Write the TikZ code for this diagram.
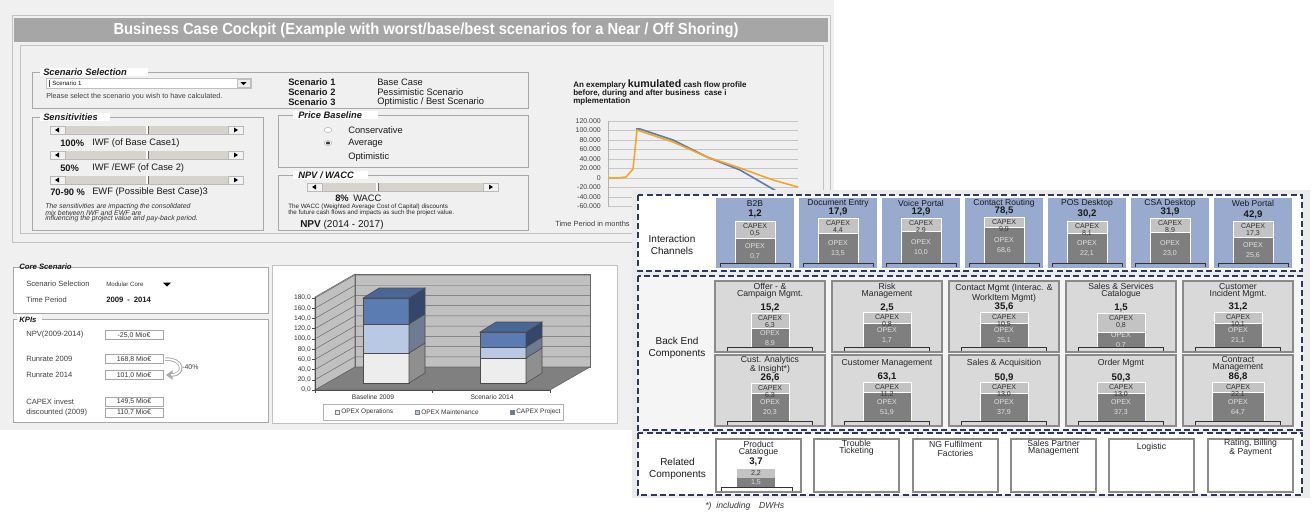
\documentclass[tikz,border=0pt]{standalone}
\usepackage{fontspec}
\setmainfont{Liberation Sans}
\newfontfamily\titlefont[FakeStretch=0.92]{Liberation Sans}
\usetikzlibrary{arrows.meta}
\newcommand\fsz[1]{\fontsize{#1}{#1}\selectfont}
\definecolor{panelbg}{HTML}{F0F0F0}
\definecolor{rightbg}{HTML}{EBEBEB}
\definecolor{framecol}{HTML}{A8A8A8}
\definecolor{titlebar}{HTML}{A6A6A6}
\definecolor{navy}{HTML}{2B3A5C}
\definecolor{icblue}{HTML}{98ABCF}
\definecolor{becardcol}{HTML}{D9D9D9}
\definecolor{cardedge}{HTML}{8A8A8A}
\definecolor{capfill}{HTML}{C3C3C3}
\definecolor{opfill}{HTML}{7F7F7F}
\definecolor{orangeline}{HTML}{F4A52A}
\definecolor{blueline}{HTML}{5A7DB3}
\definecolor{wallcol}{HTML}{C0C0C0}
\definecolor{floorcol}{HTML}{808080}
\definecolor{opsfront}{HTML}{EDEDED}
\definecolor{maintfront}{HTML}{B9C8E3}
\definecolor{capfront}{HTML}{5B7CB3}
\definecolor{opsside}{HTML}{8F8F8F}
\definecolor{maintside}{HTML}{6F7B90}
\definecolor{capside}{HTML}{34476B}
\definecolor{captop}{HTML}{4A6697}
\definecolor{sliderbg}{HTML}{D6D3CC}
\tikzset{
  lt/.style={inner sep=0pt, anchor=west, text=black!90},
  ct/.style={inner sep=0pt, text=black!90},
  boxframe/.style={draw=framecol, line width=0.6pt},
  grptitle/.style={lt, font=\bfseries\itshape\fsz{7}},
  dashbox/.style={draw=navy, line width=1.4pt, dash pattern=on 4.5pt off 2.5pt},
  captxt/.style={ct, font=\fsz{5.3}, text=black!80},
  optxt/.style={ct, font=\fsz{5.3}, text=white!88!black},
  brk/.style={draw=black!80, line width=0.7pt},
  ctitle/.style={ct, font=\fontsize{6.5}{5.3}\selectfont, align=center, text=black!85},
  ctitlewide/.style={ct, font=\fontsize{6.5}{7.5}\selectfont, align=center, text=black!85},
  cval/.style={ct, font=\bfseries\fsz{7.2}},
  seclabel/.style={ct, font=\fontsize{7.5}{9}\selectfont, align=center},
  kpibox/.style={draw=gray!70, fill=white, inner sep=0pt, minimum width=43.5pt, minimum height=6.75pt, font=\fsz{5.2}, text=black!80},
  relcard/.style={fill=white, draw=cardedge, line width=1pt},
  barline/.style={draw=black!70, line width=0.4pt}
}
% #1 name #2 cx #3 bottom #4 capTop #5 opTop #6 capex #7 opex #8 half width #9 bracket half width
\newcommand\drawstack[9]{%
  \fill[capfill] (#2-#8,#4) rectangle (#2+#8,#5);
  \fill[opfill] (#2-#8,#5) rectangle (#2+#8,#3);
  \draw[white, line width=0.6pt] (#2-#8,#3) -- (#2-#8,#4) -- (#2+#8,#4) -- (#2+#8,#3);
  \draw[white, line width=0.4pt] (#2-#8,#5) -- (#2+#8,#5);
  \node[captxt] (#1c) at (#2,#4+5) {CAPEX};
  \node[captxt] (#1cv) at (#2,#4+12.5) {#6};
  \node[optxt] (#1o) at (#2,{(#5+#3)/2-4.5}) {OPEX};
  \node[optxt] (#1ov) at (#2,{(#5+#3)/2+5.5}) {#7};
  \draw[brk] (#2-#9,#3+4) -- (#2-#9,#3) -- (#2+#9,#3) -- (#2+#9,#3+4);
}
% #1 name #2 x #3 title #4 total #5 totalY #6 capex #7 opex #8 capTop #9 opTop
\newcommand\icard[9]{%
  \fill[icblue] (#2,198) rectangle (#2+78,268);
  \node[ct, font=\fsz{6.4}] (#1t) at (#2+39,203.5) {#3};
  \node[cval] (#1v) at (#2+39,#5) {#4};
  \drawstack{#1}{#2+39}{263}{#8}{#9}{#6}{#7}{20}{35}
}
% #1 name #2 x #3 top #4 style #5 title #6 titleY #7 total #8 totalY
\newcommand\becard[8]{%
  \filldraw[fill=becardcol, draw=cardedge, line width=1pt] (#2,#3) rectangle (#2+110,#3+71);
  \node[#4] (#1t) at (#2+55,#6) {#5};
  \node[cval] (#1v) at (#2+55,#8) {#7};
}
% #1 x1 #2 x2 #3 y #4 thumb
\newcommand\slidebar[4]{%
  \fill[sliderbg] (#1,#3-4) rectangle (#2,#3+4);
  \draw[gray!55, line width=0.5pt] (#1,#3+4) -- (#2,#3+4);
  \filldraw[fill=gray!10, draw=gray!55, line width=0.4pt] (#1,#3-4) rectangle (#1+15,#3+4);
  \filldraw[fill=gray!10, draw=gray!55, line width=0.4pt] (#2-15,#3-4) rectangle (#2,#3+4);
  \fill[black] (#1+5,#3) -- (#1+9,#3-2.5) -- (#1+9,#3+2.5) -- cycle;
  \fill[black] (#2-5,#3) -- (#2-9,#3-2.5) -- (#2-9,#3+2.5) -- cycle;
  \draw[white, line width=0.8pt] (#4,#3-4) -- (#4,#3+4);
  \draw[black!60, line width=0.5pt] (#4+1,#3-4) -- (#4+1,#3+4);
}
% #1 a #2 b #3 ylow #4 yhigh #5 front #6 side
\newcommand\barseg[6]{%
  \filldraw[fill=#5, barline] (#1,#3) rectangle (#2,#4);
  \filldraw[fill=#6, barline] (#2,#3) -- (#2+16,#3-10) -- (#2+16,#4-10) -- (#2,#4) -- cycle;
}
\begin{document}
\begin{tikzpicture}[x=0.75pt,y=-0.75pt]
\useasboundingbox (0,0) rectangle (1316,511);
\fill[white] (0,0) rectangle (1316,511);
\fill[panelbg] (0,0) rectangle (834,246);
\fill[panelbg] (0,246) rectangle (632,430);

% ---------- top panel ----------
\draw[framecol!70, line width=0.6pt] (12,15) rectangle (830,242);
\fill[titlebar] (14,18) rectangle (828,42);
\node[ct, text=white, font=\titlefont\bfseries\fsz{12}] (title) at (426,30.5) {Business Case Cockpit (Example with worst/base/best scenarios for a Near / Off Shoring)};
\draw[framecol!70, line width=0.6pt] (20,45) rectangle (823,233);

% Scenario selection
\draw[boxframe] (32,72) rectangle (528,108);
\fill[white] (40,68) rectangle (148,76);
\node[grptitle] (sstitle) at (43,72) {Scenario Selection};
\filldraw[fill=white, draw=gray!50] (46,78) rectangle (251,88);
\draw[black!70] (49,79.5) -- (49,86.5);
\node[lt, font=\fsz{4.6}] (sc1) at (52,83) {Scenario 1};
\filldraw[fill=gray!15, draw=gray!50] (237,79) rectangle (250,87);
\fill[black] (240.5,82) -- (246.5,82) -- (243.5,85) -- cycle;
\node[lt, font=\fsz{5.4}, text=black!75] (pls) at (46,97) {Please select the scenario you wish to have calculated.};
\node[lt, font=\bfseries\fsz{7}] (s1) at (288,82) {Scenario 1};
\node[lt, font=\bfseries\fsz{7}] (s2) at (288,92) {Scenario 2};
\node[lt, font=\bfseries\fsz{7}] (s3) at (288,102) {Scenario 3};
\node[lt, font=\fsz{7}] (s1v) at (377,82) {Base Case};
\node[lt, font=\fsz{7}] (s2v) at (377,92) {Pessimistic Scenario};
\node[lt, font=\fsz{7}] (s3v) at (377,102) {Optimistic / Best Scenario};

% Sensitivities
\draw[boxframe] (32,117) rectangle (263,230);
\fill[white] (40,113) rectangle (110,121);
\node[grptitle] (sens) at (43,117) {Sensitivities};
\slidebar{50}{243}{130}{147}
\slidebar{50}{243}{155}{147}
\slidebar{50}{243}{180}{147}
\node[lt, font=\bfseries\fsz{7}] (p1) at (60,143) {100\%};
\node[lt, font=\fsz{7}] (p1t) at (92,143) {IWF (of Base Case1)};
\node[lt, font=\bfseries\fsz{7}] (p2) at (60,168) {50\%};
\node[lt, font=\fsz{7}] (p2t) at (92,168) {IWF /EWF (of Case 2)};
\node[lt, font=\bfseries\fsz{7}] (p3) at (50,192) {70-90 \%};
\node[lt, font=\fsz{7}] (p3t) at (92,192) {EWF (Possible Best Case)3};
\node[lt, font=\itshape\fsz{5.2}, text=black!80] (n1) at (45,207) {The sensitivities are impacting the consolidated};
\node[lt, font=\itshape\fsz{5.2}, text=black!80] (n2) at (45,213) {mix between IWF and EWF are};
\node[lt, font=\itshape\fsz{5.2}, text=black!80] (n3) at (45,219) {influencing the project value and pay-back period.};

% Price baseline
\draw[boxframe] (278,115) rectangle (528,167);
\fill[white] (293,111) rectangle (378,119);
\node[grptitle] (price) at (298,115) {Price Baseline};
\filldraw[fill=white, draw=gray!60] (328,130) ellipse (4 and 2.5);
\filldraw[fill=white, draw=gray!60] (328,143) ellipse (4 and 2.5);
\fill[black!80] (328,143) ellipse (2.2 and 1.4);
\node[lt, font=\fsz{7}] (r1) at (348,130) {Conservative};
\node[lt, font=\fsz{7}] (r2) at (348,143.5) {Average};
\node[lt, font=\fsz{7}] (r3) at (348,157) {Optimistic};

% NPV / WACC
\draw[boxframe] (278,175) rectangle (528,230);
\fill[white] (293,171) rectangle (368,179);
\node[grptitle] (npvt) at (298,175) {NPV / WACC};
\slidebar{307}{498}{187}{377}
\node[lt, font=\bfseries\fsz{7}] (w1) at (335,198) {8\%};
\node[lt, font=\fsz{7}] (w2) at (353,198) {WACC};
\node[lt, font=\fsz{4.7}, text=black!85] (w3) at (288,206.5) {The WACC (Weighted Average Cost of Capital) discounts};
\node[lt, font=\fsz{4.7}, text=black!85] (w4) at (288,212.5) {the future cash flows and impacts as such the project value.};
\node[lt, font=\fsz{7.5}] (npv) at (300,225) {\textbf{NPV} (2014 - 2017)};

% cash flow chart
\node[lt, font=\bfseries\fsz{6}] (ch1) at (573,84) {An exemplary {\fsz{8}kumulated} cash flow profile};
\node[lt, font=\bfseries\fsz{6}] (ch2) at (573,93) {before, during and after business\ \ case i};
\node[lt, font=\bfseries\fsz{6}] (ch3) at (573,101.5) {mplementation};
\foreach \k in {-3,...,6} \draw[gray!45, line width=0.5pt] (608,178-\k*9.5) -- (798,178-\k*9.5);
\draw[gray!60, line width=0.5pt] (608,121) -- (608,206.5);
\foreach \k/\l in {6/120.000,5/100.000,4/80.000,3/60.000,2/40.000,1/20.000,0/0,-1/-20.000,-2/-40.000,-3/-60.000}
  \node[ct, anchor=east, font=\fsz{5.2}, text=black!75] (yl\k) at (601,178-\k*9.5) {\l};
\draw[blueline, line width=1.2pt, line join=round] (636,129) -- (640,129) -- (673,140) -- (707,157) -- (740,170) -- (778,192) -- (800,205);
\draw[orangeline, line width=1.2pt, line join=round] (608,178) -- (618,178) -- (626,177) -- (633,169) -- (637,130) -- (640,131) -- (673,142) -- (707,157) -- (740,168) -- (773,180) -- (798,187);
\node[lt, font=\fsz{5.6}, text=black!75] (tp) at (555,224) {Time Period in months};

% ---------- bottom-left panel ----------
\filldraw[fill=white, draw=framecol] (13,267) rectangle (268,313);
\node[grptitle, font=\bfseries\itshape\fsz{5.8}] (cstitle) at (19,267) {Core Scenario};
\node[lt, font=\fsz{5.7}, text=black!75] (cl1) at (26,284) {Scenario Selection};
\node[lt, font=\fsz{4.6}, text=black!80] (cv1) at (106,284.5) {Modular Core};
\fill[black] (163,282.5) -- (171,282.5) -- (167,286.5) -- cycle;
\node[lt, font=\fsz{5.7}, text=black!75] (cl2) at (26,300) {Time Period};
\node[lt, font=\bfseries\fsz{5.8}] (cv2) at (106,300) {2009\enspace-\enspace2014};

\filldraw[fill=white, draw=framecol] (13,319) rectangle (268,422);
\fill[white] (17,315) rectangle (42,323);
\node[grptitle, font=\bfseries\itshape\fsz{5.8}] (kpit) at (19,319.5) {KPIs};
\node[lt, font=\fsz{5.7}, text=black!75] (kl1) at (26,335) {NPV(2009-2014)};
\node[kpibox] (k1) at (134,335) {-25,0 Mio€};
\node[lt, font=\fsz{5.7}, text=black!75] (kl2) at (26,359) {Runrate 2009};
\node[kpibox] (k2) at (134,359) {168,8 Mio€};
\node[lt, font=\fsz{5.7}, text=black!75] (kl3) at (26,375) {Runrate 2014};
\node[kpibox] (k3) at (134,375) {101,0 Mio€};
\node[lt, font=\fsz{5.7}, text=black!75] (kl4) at (26,401.5) {CAPEX invest};
\node[kpibox] (k4) at (134,401.5) {149,5 Mio€};
\node[lt, font=\fsz{5.7}, text=black!75] (kl5) at (26,412.5) {discounted (2009)};
\node[kpibox] (k5) at (134,412.5) {110,7 Mio€};
\draw[gray!65, line width=2.6pt, -{Triangle[length=5pt,width=7pt]}] ([xshift=1.5pt]k2.east) .. controls +(20,0) and +(18,0) .. ([xshift=2pt]k3.east);
\draw[white, line width=1.2pt, shorten >=4pt] ([xshift=1.5pt]k2.east) .. controls +(20,0) and +(18,0) .. ([xshift=2pt]k3.east);
\node[lt, font=\fsz{5.2}, text=black!75] (pct) at (182,367) {-40\%};

% 3D bar chart
\filldraw[fill=white, draw=framecol!70] (272,265) rectangle (617,423);
\filldraw[fill=wallcol, draw=black!60, line width=0.4pt] (315,390) -- (355,367) -- (355,274) -- (315,297) -- cycle;
\filldraw[fill=wallcol, draw=black!60, line width=0.4pt] (355,367) -- (590,367) -- (590,274) -- (355,274) -- cycle;
\filldraw[fill=floorcol, draw=black!60, line width=0.4pt] (315,390) -- (550,390) -- (590,367) -- (355,367) -- cycle;
\foreach \v in {20,40,...,180} {
  \draw[black!60, line width=0.35pt] (315,390-\v*0.511) -- (355,367-\v*0.511) -- (590,367-\v*0.511);
}
\draw[black!70, line width=0.5pt] (315,297) -- (315,390) -- (550,390);
\foreach \v in {0,20,...,180} {
  \draw[black!70, line width=0.4pt] (312,390-\v*0.511) -- (315,390-\v*0.511);
  \node[ct, anchor=east, font=\fsz{5}, text=black!80] (ax\v) at (311,390-\v*0.511) {\v,0};
}
\foreach \t in {315,432,550} \draw[black!70, line width=0.4pt] (\t,390) -- (\t,393);
% bar 1
\barseg{363}{409}{383}{353}{opsfront}{opsside}
\barseg{363}{409}{353}{324}{maintfront}{maintside}
\barseg{363}{409}{324}{298}{capfront}{capside}
\filldraw[fill=captop, barline] (363,298) -- (409,298) -- (425,288) -- (379,288) -- cycle;
% bar 2
\barseg{480}{526}{383}{358}{opsfront}{opsside}
\barseg{480}{526}{358}{347}{maintfront}{maintside}
\barseg{480}{526}{347}{332}{capfront}{capside}
\filldraw[fill=captop, barline] (480,332) -- (526,332) -- (542,322) -- (496,322) -- cycle;
\node[ct, font=\fsz{5}, text=black!80] (cat1) at (373,397.5) {Baseline 2009};
\node[ct, font=\fsz{5}, text=black!80] (cat2) at (492,397.5) {Scenario 2014};
\filldraw[fill=white, draw=gray!60, line width=0.4pt] (323,404) rectangle (563,420);
\filldraw[fill=opsfront, draw=gray, line width=0.3pt] (335,410) rectangle (339,414);
\node[lt, font=\fsz{4.9}, text=black!80] (lg1) at (341,412) {OPEX Operations};
\filldraw[fill=maintfront, draw=gray, line width=0.3pt] (415,410) rectangle (419,414);
\node[lt, font=\fsz{4.9}, text=black!80] (lg2) at (421,412) {OPEX Maintenance};
\filldraw[fill=capfront, draw=gray, line width=0.3pt] (510,410) rectangle (514,414);
\node[lt, font=\fsz{4.9}, text=black!80] (lg3) at (516,412) {CAPEX Project};

% ---------- right panel ----------
\fill[rightbg] (632,190) rectangle (1310,498);
\filldraw[fill=white, dashbox] (638,195) rectangle (1302,271);
\filldraw[fill=white!96!black, dashbox] (638,276) rectangle (1302,430);
\filldraw[fill=white, dashbox] (638,433) rectangle (1302,495);

\node[seclabel] (secic) at (672,245) {Interaction\\Channels};
\node[seclabel] (secbe) at (677,348) {Back End\\Components};
\node[seclabel] (secrc) at (677.5,468.5) {Related\\Components};

\icard{ic1}{716}{B2B}{1,2}{214}{0,5}{0,7}{221}{238}
\icard{ic2}{799}{Document Entry}{17,9}{211.5}{4,4}{13,5}{218}{233}
\icard{ic3}{882}{Voice Portal}{12,9}{211.5}{2,9}{10,0}{218}{231}
\icard{ic4}{965}{Contact Routing}{78,5}{210.5}{9,9}{68,6}{217}{227}
\icard{ic5}{1048}{POS Desktop}{30,2}{214}{8,1}{22,1}{221}{233}
\icard{ic6}{1131}{CSA Desktop}{31,9}{211.5}{8,9}{23,0}{218}{232}
\icard{ic7}{1214}{Web Portal}{42,9}{215}{17,3}{25,6}{221}{237}

\becard{be1}{715}{281}{ctitle}{Offer - \&\\Campaign Mgmt.}{290.5}{15,2}{308}
\drawstack{be1}{770}{347}{313}{328}{6,3}{8,9}{19}{42.5}
\becard{be2}{832}{281}{ctitle}{Risk\\Management}{290.5}{2,5}{308}
\drawstack{be2}{887}{347}{312}{323}{0,8}{1,7}{24}{42.5}
\becard{be3}{949}{281}{ctitlewide}{Contact Mgmt (Interac. \&\\WorkItem Mgmt)}{293}{35,6}{306.5}
\drawstack{be3}{1004}{347}{312}{323}{10,5}{25,1}{24}{42.5}
\becard{be4}{1066}{281}{ctitle}{Sales \& Services\\Catalogue}{291}{1,5}{308}
\drawstack{be4}{1121}{347}{313}{332}{0,8}{0,7}{24}{42.5}
\becard{be5}{1183}{281}{ctitle}{Customer\\Incident Mgmt.}{291}{31,2}{306.5}
\drawstack{be5}{1238}{347}{312}{323}{10,1}{21,1}{24}{42.5}
\becard{be6}{715}{355}{ctitle}{Cust. Analytics\\\& Insight*)}{364.5}{26,6}{377.5}
\drawstack{be6}{770}{421}{383}{393}{6,3}{20,3}{19}{42.5}
\becard{be7}{832}{355}{ctitle}{Customer Management}{363}{63,1}{377}
\drawstack{be7}{887}{421}{382}{392}{11,2}{51,9}{24}{42.5}
\becard{be8}{949}{355}{ctitle}{Sales \& Acquisition}{363}{50,9}{377.5}
\drawstack{be8}{1004}{421}{382}{393}{13,0}{37,9}{24}{42.5}
\becard{be9}{1066}{355}{ctitle}{Order Mgmt}{363}{50,3}{377.5}
\drawstack{be9}{1121}{421}{382}{393}{13,0}{37,3}{24}{42.5}
\becard{be10}{1183}{355}{ctitle}{Contract\\Management}{363.5}{86,8}{377}
\drawstack{be10}{1238}{421}{382}{392}{22,1}{64,7}{26}{42.5}

% related components
\filldraw[relcard] (716,439) rectangle (801,492);
\filldraw[relcard] (814,439) rectangle (899,492);
\filldraw[relcard] (913,439) rectangle (998,492);
\filldraw[relcard] (1011,439) rectangle (1096,492);
\filldraw[relcard] (1109,439) rectangle (1194,492);
\filldraw[relcard] (1208,439) rectangle (1293,492);
\node[ctitle] (rc1t) at (758.5,448.5) {Product\\Catalogue};
\node[cval] (rc1v) at (756,462) {3,7};
\fill[capfill] (737,469) rectangle (775,478);
\fill[opfill] (737,478) rectangle (775,487);
\node[captxt] (rc1c) at (756,473.5) {2,2};
\node[optxt] (rc1o) at (756,482.5) {1,5};
\draw[brk] (721,491) -- (721,487) -- (792,487) -- (792,491);
\node[ctitle] (rc2t) at (856.5,448) {Trouble\\Ticketing};
\node[ctitlewide, font=\fontsize{6.5}{6.75}\selectfont] (rc3t) at (955.5,449) {NG Fulfilment\\Factories};
\node[ctitle] (rc4t) at (1053.5,447.5) {Sales Partner\\Management};
\node[ctitle] (rc5t) at (1151.5,447) {Logistic};
\node[ctitle] (rc6t) at (1250.5,447.5) {Rating, Billing\\\& Payment};

\node[lt, font=\itshape\fsz{6.5}, text=black!80] (foot) at (705,506) {*)\ \ including\quad DWHs};
\end{tikzpicture}
\end{document}
